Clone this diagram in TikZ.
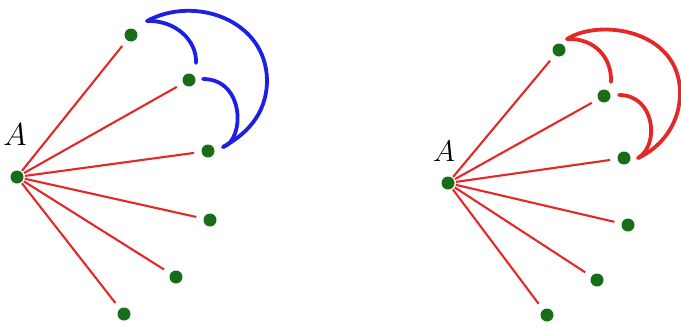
\documentclass[tikz,border=0pt]{standalone}
\usetikzlibrary{calc}
\definecolor{dotgreen}{RGB}{24,110,24}
\definecolor{edgered}{RGB}{228,40,40}
\definecolor{arcblue}{RGB}{30,30,228}
\begin{document}
\begin{tikzpicture}[x=1pt,y=-1pt,
  dot/.style={circle,fill=dotgreen,inner sep=0pt,minimum size=13pt,outer sep=0pt},
  spoke/.style={draw=edgered,line width=2.1pt,shorten <=1.5pt,shorten >=7.5pt},
  arcline/.style={line width=3.8pt,line cap=round},
  lbl/.style={inner sep=0pt,font=\fontsize{24.88}{28}\selectfont}]
\useasboundingbox (0,0) rectangle (681,327);

% ---- left fan: arcs in blue ----
\node[dot] (LA) at (17,177) {};
\node[lbl] (LAl) at (15,135) {\scalebox{1.28}{$A$}};
\node[dot] (L1) at (131,35) {};
\node[dot] (L2) at (189,80) {};
\node[dot] (L3) at (208,151) {};
\node[dot] (L4) at (210,220) {};
\node[dot] (L5) at (176,277) {};
\node[dot] (L6) at (124,314) {};
\foreach \n in {1,...,6} \draw[spoke] (LA) -- (L\n);
\coordinate (Lp) at (147,21);
\coordinate (Lq) at (196,63);
\coordinate (Lr) at (203,79);
\coordinate (Ls) at (223,147);
\draw[arcline,arcblue] (Lp) .. controls (175,20) and (197,40) .. (Lq);
\draw[arcline,arcblue] (Lr) .. controls (245,79) and (245,140) .. (Ls);
\draw[arcline,arcblue] (Lp) .. controls (195,-5) and (266,20) .. (267,80)
  .. controls (267,115) and (245,135) .. (Ls);

% ---- right fan: arcs in red ----
\node[dot] (RA) at (448,183) {};
\node[lbl] (RAl) at (444,151) {\scalebox{1.2}{$A$}};
\node[dot] (R1) at (559,50) {};
\node[dot] (R2) at (604,96) {};
\node[dot] (R3) at (624,158) {};
\node[dot] (R4) at (628,225) {};
\node[dot] (R5) at (597,280) {};
\node[dot] (R6) at (547,315) {};
\foreach \n in {1,...,6} \draw[spoke] (RA) -- (R\n);
\coordinate (Rp) at (567,39);
\coordinate (Rq) at (611,82);
\coordinate (Rr) at (619,95);
\coordinate (Rs) at (638,158);
\draw[arcline,edgered] (Rp) .. controls (595,38) and (612,58) .. (Rq);
\draw[arcline,edgered] (Rr) .. controls (655,95) and (660,145) .. (Rs);
\draw[arcline,edgered] (Rp) .. controls (600,18) and (680,30) .. (680,93)
  .. controls (680,125) and (660,148) .. (Rs);
\end{tikzpicture}
\end{document}
